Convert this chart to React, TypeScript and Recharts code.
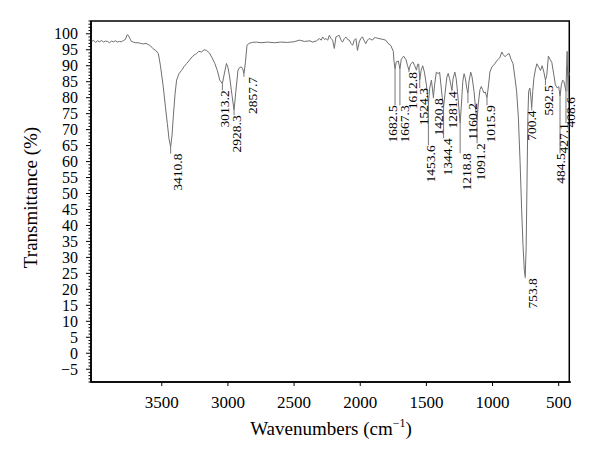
import React from 'react';
import { ComposedChart, Line, Scatter, XAxis, YAxis, ReferenceLine, ReferenceArea } from 'recharts';

const serif = '"Liberation Serif", "Times New Roman", serif';

// axis ticks
const xTicks = [3500, 3000, 2500, 2000, 1500, 1000, 500];
const yLabels = [-5, 0, 5, 10, 15, 20, 25, 30, 35, 40, 45, 50, 55, 60, 65, 70, 75, 80, 85, 90, 95, 100];
const yTicks = Array.from({ length: 114 }, (_, i) => i - 9); // minor ruler ticks every 1 %

// spectrum: [wavenumber, transmittance]
const baseline: [number, number][] = [
  [4035, 97.6], [4015, 97.9], [4000, 97.3], [3985, 97.8], [3970, 97.5], [3955, 97.9], [3940, 97.4],
  [3925, 97.7], [3910, 97.6], [3895, 97.2], [3880, 97.7], [3865, 97.5], [3850, 97.8], [3835, 97.4],
  [3820, 97.6], [3805, 97.5], [3790, 97.9], [3775, 98.2], [3762, 99.7], [3752, 99.5], [3742, 98.6],
  [3730, 97.6], [3715, 97.4], [3700, 97.2], [3680, 97.2], [3660, 97.0], [3640, 96.8], [3620, 97.0],
  [3600, 96.6], [3585, 96.2], [3565, 95.3], [3545, 94.8],
];
const ohStretch: [number, number][] = [
  [3526, 93.8], [3510, 90], [3489, 83.4], [3472, 77], [3458, 71.9], [3445, 67], [3433, 64.6],
  [3423, 68], [3413, 74], [3400, 81], [3388, 85.5], [3370, 87.5], [3350, 88.6], [3330, 89.8],
  [3312, 90.7], [3290, 91.8], [3270, 92.8], [3250, 93.5], [3237, 93.8], [3220, 94.5], [3200, 94.3],
  [3180, 95.0], [3162, 94.8], [3140, 94.0], [3120, 92.5], [3099, 90.7], [3080, 88.5], [3062, 85.5],
  [3042, 84.4], [3025, 88], [3011, 90.7], [3000, 89.5], [2987, 86.5], [2970, 81], [2954, 76.1],
  [2940, 82], [2924, 88.6], [2910, 89.5], [2898, 89.6], [2888, 89], [2879, 87.5], [2868, 91],
  [2856, 96.4], [2840, 97.0], [2815, 97.3], [2786, 97.4],
];
const noisyMid: [number, number][] = [
  [2750, 97.2], [2700, 97.4], [2650, 97.2], [2600, 97.4], [2550, 97.3], [2500, 97.5], [2460, 98.0],
  [2420, 97.6], [2380, 97.8], [2359, 97.4], [2330, 97.8], [2309, 98.5], [2295, 98.0], [2284, 99.0],
  [2270, 98.2], [2259, 98.5], [2245, 98.0], [2234, 99.5], [2220, 98.5], [2209, 98.0], [2196, 95.4],
  [2184, 99.0], [2170, 99.3], [2159, 99.5], [2145, 98.0], [2134, 97.4], [2120, 98.5], [2108, 99.0],
  [2095, 98.2], [2083, 98.0], [2070, 97.0], [2058, 96.4], [2045, 98.0], [2033, 98.5], [2021, 94.8],
  [2008, 97.4], [1995, 98.6], [1983, 99.0], [1970, 97.8], [1958, 96.9], [1945, 98.0], [1933, 98.5],
  [1920, 98.3], [1908, 98.0], [1895, 98.7], [1883, 98.8], [1870, 98.6], [1858, 98.5], [1835, 98.3],
  [1807, 98.0], [1790, 97.0], [1770, 96.4], [1750, 94.5],
];
const fingerprint: [number, number][] = [
  [1745, 91.5], [1737, 89], [1728, 91.2], [1712, 91.5], [1700, 89], [1690, 92], [1672, 93],
  [1655, 92], [1642, 90], [1632, 88.6], [1620, 90.5], [1602, 91.2], [1588, 90], [1575, 88.6],
  [1566, 90.5], [1558, 90.5], [1550, 85.5], [1540, 88.5], [1528, 90], [1515, 88], [1500, 84],
  [1485, 78], [1475, 83], [1462, 85.5], [1455, 83], [1447, 80.2], [1438, 84], [1425, 88],
  [1410, 87.5], [1400, 88], [1390, 84], [1380, 80], [1370, 77], [1360, 81], [1345, 86.5],
  [1335, 87.6], [1325, 86], [1315, 84], [1307, 82.3], [1298, 86], [1285, 88], [1275, 86],
  [1265, 82], [1255, 77], [1245, 72], [1235, 78], [1225, 85], [1215, 87.5], [1205, 86],
  [1195, 83], [1186, 81.4], [1178, 85], [1165, 88], [1155, 86.5], [1140, 82], [1127, 76],
  [1117, 73], [1108, 78], [1095, 82.5], [1085, 83.5], [1075, 82.5], [1065, 81.5], [1055, 81.8],
  [1042, 80], [1030, 84], [1020, 88], [1005, 89.6],
];
const lowRange: [number, number][] = [
  [985, 90.5], [965, 91.7], [945, 92.5], [930, 94.3], [920, 93.5], [905, 92.8], [890, 93.5],
  [875, 93.8], [860, 92], [845, 90.6], [830, 86], [818, 82], [805, 74], [792, 60], [780, 45],
  [770, 34], [760, 26], [753, 24], [746, 33], [740, 52], [733, 74], [727, 82], [718, 83],
  [710, 80], [704, 77], [696, 82], [688, 86], [675, 89], [665, 90.6], [650, 89.5], [638, 88.5],
  [625, 90], [612, 88], [600, 85.5], [590, 87], [578, 93], [565, 92], [552, 91], [540, 88],
  [525, 84], [510, 83], [500, 83.5], [490, 80.5], [480, 84], [470, 85.5], [460, 85], [450, 83],
  [445, 82], [440, 90], [436, 94.5], [432, 86], [428, 82], [424, 88], [420, 87],
];

// peak annotations: label text, wavenumber of the dip, dip depth, label position, label top
const peakNames = ['3410.8', '3013.2', '2928.3', '2857.7', '1682.5', '1667.3', '1612.8', '1524.3', '1453.6', '1420.8', '1344.4', '1281.4', '1218.8', '1160.2', '1091.2', '1015.9', '753.8', '700.4', '592.5', '484.5', '427.1', '408.6'];
const peakAt = [3433, 3042, 2954, 2879, 1737, 1700, 1632, 1550, 1485, 1447, 1370, 1307, 1245, 1186, 1117, 1042, 753, 704, 600, 490, 445, 428];
const peakDip = [64.6, 84.4, 76.1, 87.5, 89, 89, 88.6, 85.5, 78, 80.2, 77, 82.3, 72, 81.4, 73, 80, 24, 77, 85.5, 80.5, 82, 82];
const labelAt = [3378, 3024, 2936, 2813, 1757, 1662, 1602, 1519, 1468, 1406, 1343, 1306, 1193, 1155, 1092, 1012, 698, 704, 578, 490, 465, 407];
const labelTop = [62.5, 82.3, 74.5, 86.5, 77.6, 77.6, 88, 83, 65.1, 79.8, 67.3, 82, 62.6, 78.3, 65.7, 77.6, 23.5, 76, 83.9, 62.6, 72, 80.2];

const spectrum = [...baseline, ...ohStretch, ...noisyMid, ...fingerprint, ...lowRange].map(([w, t]) => ({ w, t }));
const peaks = peakNames.map((name, i) => ({ name, w: labelAt[i], top: labelTop[i] }));

const YTick = (props: any) => {
  const { x, y, payload } = props;
  const v = payload.value;
  const major = v % 5 === 0;
  return (
    <g>
      <line x1={x - (major ? 5 : 2.5)} x2={x} y1={y} y2={y} stroke="#000" strokeWidth={1} />
      {yLabels.includes(v) && (
        <text x={x - 13} y={y} dy="0.35em" textAnchor="end" fontSize={16} fontFamily={serif} fill="#000">
          {v < 0 ? '\u2212' + Math.abs(v) : v}
        </text>
      )}
    </g>
  );
};

const PeakLabel = (props: any) => {
  const { cx, cy, payload } = props;
  const bx = cx + 4.5;
  return (
    <text x={bx} y={cy} transform={`rotate(-90, ${bx}, ${cy})`} textAnchor="end" fontSize={13.5} fontFamily={serif} fill="#000">
      {payload.name}
    </text>
  );
};

const XTitle = (props: any) => {
  const vb = props.viewBox;
  return (
    <text x={vb.x + vb.width / 2} y={vb.y + 53} textAnchor="middle" fontSize={19} fontFamily={serif} fill="#000">
      Wavenumbers (cm
      <tspan fontSize={12} dy={-8}>{'\u22121'}</tspan>
      <tspan dy={8}>)</tspan>
    </text>
  );
};

const YTitle = (props: any) => {
  const vb = props.viewBox;
  const cx = vb.x - 0.5;
  const cy = vb.y + vb.height / 2 - 4;
  return (
    <text x={cx} y={cy} transform={`rotate(-90, ${cx}, ${cy})`} textAnchor="middle" dominantBaseline="central" fontSize={19} fontFamily={serif} fill="#000">
      Transmittance (%)
    </text>
  );
};

export default function App() {
  return (
    <div style={{ position: 'absolute', left: 0, top: 0, background: '#fff' }}>
      <ComposedChart width={600} height={464} margin={{ top: 21, right: 29, bottom: 52, left: 31 }}>
        <XAxis
          type="number"
          dataKey="w"
          domain={[420, 4035]}
          reversed
          ticks={xTicks}
          interval={0}
          tickSize={4}
          tickMargin={10}
          tickLine={{ stroke: '#000' }}
          axisLine={{ stroke: '#000', strokeWidth: 1.5 }}
          tick={{ fontSize: 17, fontFamily: serif, fill: '#000' }}
          label={<XTitle />}
        />
        <YAxis
          type="number"
          domain={[-9, 104]}
          ticks={yTicks}
          interval={0}
          width={60}
          tickSize={0}
          tickMargin={0}
          tickLine={false}
          axisLine={{ stroke: '#000', strokeWidth: 1.5 }}
          tick={<YTick />}
          label={<YTitle />}
        />
        <ReferenceArea x1={4035} x2={420} y1={-9} y2={104} fill="none" stroke="#000" strokeWidth={1.5} />
        {peakNames.map((n, i) => (
          <ReferenceLine
            key={n}
            segment={[{ x: peakAt[i], y: peakDip[i] }, { x: peakAt[i], y: labelTop[i] }]}
            stroke="#777"
            strokeWidth={1}
          />
        ))}
        <Line data={spectrum} dataKey="t" type="linear" stroke="#6f6f6f" strokeWidth={1} dot={false} activeDot={false} isAnimationActive={false} />
        <Scatter data={peaks} dataKey="top" shape={<PeakLabel />} isAnimationActive={false} />
      </ComposedChart>
    </div>
  );
}
